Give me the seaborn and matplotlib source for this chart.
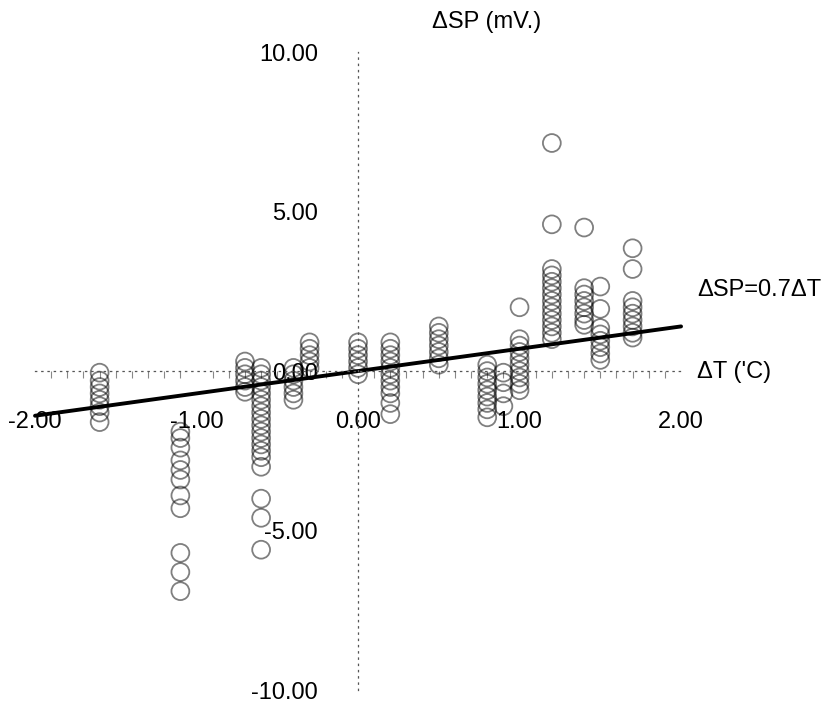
import numpy as np
import pandas as pd
import matplotlib
matplotlib.use("Agg")
import matplotlib.pyplot as plt
import seaborn as sns

# Temperature change (deg C) of each measurement group
dt_levels = [-1.6, -1.1, -0.7, -0.6, -0.4, -0.3, 0.0, 0.2,
             0.5, 0.8, 0.9, 1.0, 1.2, 1.4, 1.5, 1.7]

# Self-potential change (mV) recorded in each group
sp_m16 = [-0.05, -0.3, -0.5, -0.7, -0.9, -1.1, -1.3, -1.6]
sp_m11 = [-1.9, -2.1, -2.4, -2.8, -3.1, -3.4, -3.9, -4.3, -5.7, -6.3, -6.9]
sp_m07 = [0.3, 0.1, -0.1, -0.3, -0.5, -0.65]
sp_m06 = [0.1, -0.1, -0.3, -0.5, -0.7, -0.9, -1.1, -1.3, -1.5, -1.7,
          -1.9, -2.1, -2.3, -2.5, -2.7, -3.0, -4.0, -4.6, -5.6]
sp_m04 = [0.1, -0.1, -0.3, -0.5, -0.7, -0.9]
sp_m03 = [0.9, 0.7, 0.5, 0.3, 0.1]
sp_p00 = [0.9, 0.7, 0.5, 0.3, 0.1, -0.1]
sp_p02 = [0.9, 0.7, 0.5, 0.3, 0.1, -0.1, -0.3, -0.5, -0.7, -1.0, -1.35]
sp_p05 = [1.4, 1.2, 1.0, 0.8, 0.6, 0.4, 0.2]
sp_p08 = [0.2, 0.0, -0.2, -0.4, -0.6, -0.8, -1.0, -1.2, -1.45]
sp_p09 = [-0.05, -0.35, -0.7, -1.1]
sp_p10 = [2.0, 1.0, 0.8, 0.6, 0.4, 0.2, 0.0, -0.2, -0.4, -0.6]
sp_p12 = [7.15, 4.6, 3.2, 3.0, 2.8, 2.6, 2.4, 2.2, 2.0, 1.8, 1.6, 1.4, 1.2, 1.0]
sp_p14 = [4.5, 2.6, 2.4, 2.2, 2.0, 1.8, 1.6, 1.45]
sp_p15 = [2.65, 1.95, 1.35, 1.15, 0.95, 0.75, 0.55, 0.35]
sp_p17 = [3.85, 3.2, 2.2, 2.0, 1.8, 1.6, 1.4, 1.2, 1.05]

sp_groups = [sp_m16, sp_m11, sp_m07, sp_m06, sp_m04, sp_m03, sp_p00, sp_p02,
             sp_p05, sp_p08, sp_p09, sp_p10, sp_p12, sp_p14, sp_p15, sp_p17]

# Fitted relation dSP = 0.7 dT
slope = 0.7
fit_dt = [-2.0, 2.0]

x_ticks = [-2, -1, 0, 1, 2]
y_ticks = [-10, -5, 0, 5, 10]

df = pd.DataFrame({
    "dT": [t for t, g in zip(dt_levels, sp_groups) for _ in g],
    "dSP": [v for g in sp_groups for v in g],
})
fit = pd.DataFrame({"dT": fit_dt, "dSP": [slope * t for t in fit_dt]})

sns.set_style("white")
plt.rcParams["font.family"] = ["Liberation Sans", "DejaVu Sans"]

fig = plt.figure(figsize=(8.33, 7.03), dpi=100)
ax = fig.add_axes([0.01297, 0.0048, 0.8337, 0.9347])

sns.scatterplot(data=df, x="dT", y="dSP", ax=ax, marker="o", s=165,
                facecolor="none", edgecolor="black", linewidth=1.3,
                alpha=0.5, clip_on=False)
sns.lineplot(data=fit, x="dT", y="dSP", ax=ax, color="black",
             linewidth=2.8, clip_on=False)

ax.set_xlim(-2.15, 2.15)
ax.set_ylim(-10.3, 10.3)
ax.set_xlabel("")
ax.set_ylabel("")

# Axes cross at the origin, drawn as thin dotted lines
for side in ("top", "right"):
    ax.spines[side].set_visible(False)
for side in ("left", "bottom"):
    sp = ax.spines[side]
    sp.set_position(("data", 0))
    sp.set_linestyle((0, (1, 4)))
    sp.set_color("#555555")
    sp.set_linewidth(0.9)
ax.spines["left"].set_bounds(-10, 10)
ax.spines["bottom"].set_bounds(-2, 2)

ax.set_xticks(x_ticks)
ax.set_yticks(y_ticks)
ax.set_xticklabels([f"{v:.2f}" for v in x_ticks])
ax.set_yticklabels([f"{v:.2f}" for v in y_ticks])
ax.set_xticks(np.arange(-2, 2.01, 0.1), minor=True)
ax.tick_params(axis="both", which="major", length=0, labelsize=17, pad=29,
               colors="black")
ax.tick_params(axis="x", which="minor", bottom=True, length=5, width=0.8,
               color="#888888", direction="out")
ax.tick_params(axis="y", which="minor", length=0)

fig.text(487 / 833, 1 - 22 / 703, "ΔSP (mV.)", ha="center", va="center",
         fontsize=17, color="black")
fig.text(697 / 833, 1 - 372 / 703, "ΔT ('C)", ha="left", va="center",
         fontsize=17, color="black")
fig.text(697 / 833, 1 - 290 / 703, "ΔSP=0.7ΔT", ha="left", va="center",
         fontsize=17, color="black")

fig.savefig("out.png", dpi=100, facecolor="white")
